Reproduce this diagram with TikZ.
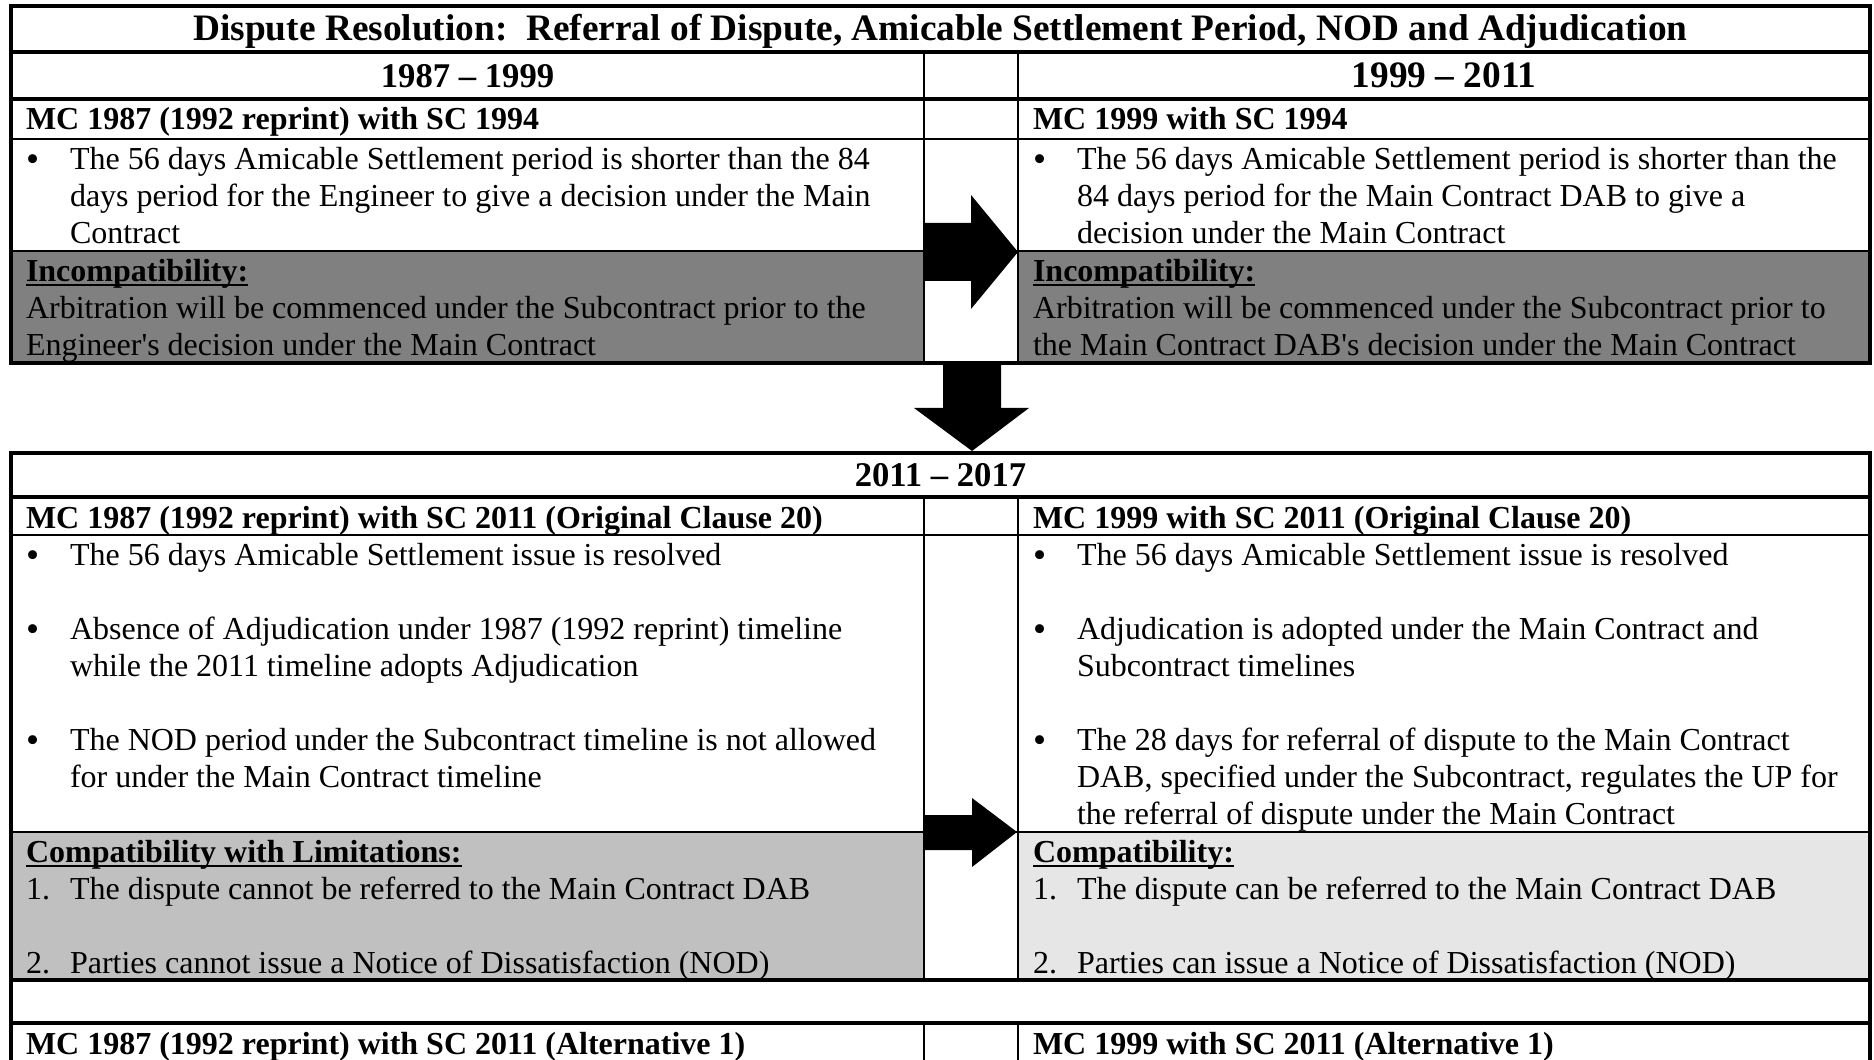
\documentclass[tikz,border=0pt]{standalone}
\usepackage{fontspec}
\setmainfont{Liberation Serif}
\frenchspacing
% underline drawn at a fixed depth, as a word processor does
\newcommand\wul[1]{\setbox0=\hbox{#1}\rlap{\rule[-0.13em]{\wd0}{0.06em}}\box0}
% a stack of lines whose first baseline is the node baseline
\newcommand\para[1]{\begin{tabular}[t]{@{}l@{}}#1\end{tabular}}
% list bullet, a little larger than the body text
\newcommand\blt{\raisebox{-0.7pt}{\fontsize{14}{14}\selectfont\textbullet}}
\definecolor{darkcell}{HTML}{808080}
\definecolor{midcell}{HTML}{C0C0C0}
\definecolor{lightcell}{HTML}{E6E6E6}

\begin{document}
\begin{tikzpicture}[x=0.375pt,y=-0.375pt,
  body/.style={inner sep=0pt,outer sep=0pt,anchor=base west,font=\fontsize{12}{13.875}\selectfont},
  head/.style={body,font=\fontsize{12}{13.875}\selectfont\bfseries},
  band/.style={inner sep=0pt,outer sep=0pt,anchor=base,font=\fontsize{13}{15}\selectfont\bfseries},
  heavy/.style={line width=1.5pt},
  light/.style={line width=0.75pt},
  block/.style={fill=black,draw=none}]

\useasboundingbox (0,0) rectangle (1874,1060);

\begin{scope}
\clip (0,0) rectangle (1874,1060);
% shaded cells
\fill[darkcell] (11,251) rectangle (924,363);
\fill[darkcell] (1018,251) rectangle (1870,363);
\fill[midcell] (11,832) rectangle (924,980);
\fill[lightcell] (1018,832) rectangle (1870,980);
% upper table grid
\draw[light] (11,139) -- (1870,139) (11,251) -- (1870,251);
\draw[light] (924,52) -- (924,363) (1018,52) -- (1018,363);
\draw[heavy] (11,52) -- (1870,52) (11,99) -- (1870,99);
\draw[heavy] (11,6) rectangle (1870,363);
% lower table grid
\draw[light] (11,535) -- (1870,535) (11,832) -- (1870,832);
\draw[light] (924,497) -- (924,980) (1018,497) -- (1018,980)
             (924,1023) -- (924,1075) (1018,1023) -- (1018,1075);
\draw[heavy] (11,1075) -- (11,453) -- (1870,453) -- (1870,1075);
\draw[heavy] (11,497) -- (1870,497) (11,980) -- (1870,980) (11,1023) -- (1870,1023);
\end{scope}

% block arrows
\fill[block] (924,223) -- (971,223) -- (971,195) -- (1018,252) -- (971,309) -- (971,281) -- (924,281) -- cycle;
\fill[block] (943,363) -- (1001,363) -- (1001,408) -- (1029,408) -- (972,451) -- (914,408) -- (943,408) -- cycle;
\fill[block] (924,815) -- (972,815) -- (972,798) -- (1017,832) -- (972,867) -- (972,850) -- (924,850) -- cycle;

% headings
\node[band,font=\fontsize{14}{16}\selectfont\bfseries] (title) at (940.5,41) {Dispute Resolution:\ \ Referral of Dispute, Amicable Settlement Period, NOD and Adjudication};
\node[band] (eraA) at (467.5,87.5) {1987 – 1999};
\node[band,font=\fontsize{14}{16}\selectfont\bfseries] (eraB) at (1444,87.5) {1999 – 2011};
\node[band] (eraC) at (940.5,487) {2011 – 2017};

% 1987 - 1999
\node[head] (subA) at (26,130) {MC 1987 (1992 reprint) with SC 1994};
\node[body] (dotA) at (26,169.5) {\blt};
\node[body] (txtA) at (70,169.5) {\para{The 56 days Amicable Settlement period is shorter than the 84\\days period for the Engineer to give a decision under the Main\\Contract}};
\node[head] (hdA) at (26,281.5) {\wul{Incompatibility:}};
\node[body] (grA) at (26,318.5) {\para{Arbitration will be commenced under the Subcontract prior to the\\Engineer\textquotesingle s decision under the Main Contract}};

% 1999 - 2011
\node[head] (subB) at (1033,130) {MC 1999 with SC 1994};
\node[body] (dotB) at (1033,169.5) {\blt};
\node[body] (txtB) at (1077,169.5) {\para{The 56 days Amicable Settlement period is shorter than the\\84 days period for the Main Contract DAB to give a\\decision under the Main Contract}};
\node[head] (hdB) at (1033,281.5) {\wul{Incompatibility:}};
\node[body] (grB) at (1033,318.5) {\para{Arbitration will be commenced under the Subcontract prior to\\the Main Contract DAB\textquotesingle s decision under the Main Contract}};

% 2011 - 2017, left
\node[head] (subC) at (26,529) {MC 1987 (1992 reprint) with SC 2011 (Original Clause 20)};
\node[body] (dotC1) at (26,565.5) {\blt};
\node[body] (txtC1) at (70,565.5) {The 56 days Amicable Settlement issue is resolved};
\node[body] (dotC2) at (26,639.5) {\blt};
\node[body] (txtC2) at (70,639.5) {\para{Absence of Adjudication under 1987 (1992 reprint) timeline\\while the 2011 timeline adopts Adjudication}};
\node[body] (dotC3) at (26,750.5) {\blt};
\node[body] (txtC3) at (70,750.5) {\para{The NOD period under the Subcontract timeline is not allowed\\for under the Main Contract timeline}};
\node[head] (hdC) at (26,862.5) {\wul{Compatibility with Limitations:}};
\node[body] (numC1) at (26,899.5) {1.};
\node[body] (itC1) at (70,899.5) {The dispute cannot be referred to the Main Contract DAB};
\node[body] (numC2) at (26,973.5) {2.};
\node[body] (itC2) at (70,973.5) {Parties cannot issue a Notice of Dissatisfaction (NOD)};

% 2011 - 2017, right
\node[head] (subD) at (1033,529) {MC 1999 with SC 2011 (Original Clause 20)};
\node[body] (dotD1) at (1033,565.5) {\blt};
\node[body] (txtD1) at (1077,565.5) {The 56 days Amicable Settlement issue is resolved};
\node[body] (dotD2) at (1033,639.5) {\blt};
\node[body] (txtD2) at (1077,639.5) {\para{Adjudication is adopted under the Main Contract and\\Subcontract timelines}};
\node[body] (dotD3) at (1033,750.5) {\blt};
\node[body] (txtD3) at (1077,750.5) {\para{The 28 days for referral of dispute to the Main Contract\\DAB, specified under the Subcontract, regulates the UP for\\the referral of dispute under the Main Contract}};
\node[head] (hdD) at (1033,862.5) {\wul{Compatibility:}};
\node[body] (numD1) at (1033,899.5) {1.};
\node[body] (itD1) at (1077,899.5) {The dispute can be referred to the Main Contract DAB};
\node[body] (numD2) at (1033,973.5) {2.};
\node[body] (itD2) at (1077,973.5) {Parties can issue a Notice of Dissatisfaction (NOD)};

% alternative rows
\node[head] (subE) at (26,1054) {MC 1987 (1992 reprint) with SC 2011 (Alternative 1)};
\node[head] (subF) at (1033,1054) {MC 1999 with SC 2011 (Alternative 1)};
\end{tikzpicture}
\end{document}
